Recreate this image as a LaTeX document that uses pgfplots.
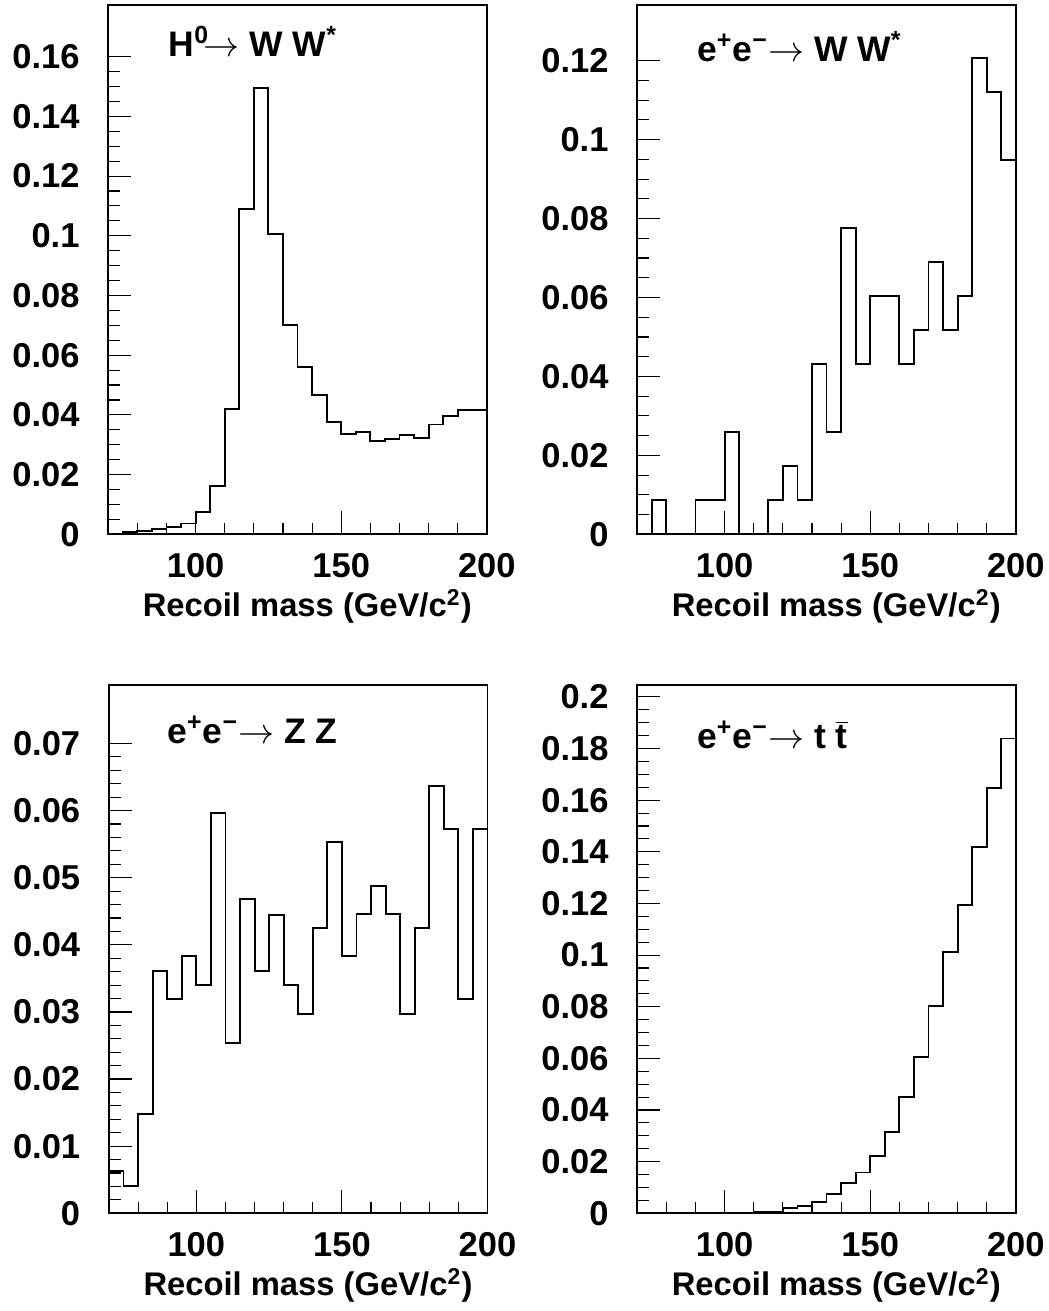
\documentclass[border=0pt]{standalone}
\usepackage{fontspec}
\setmainfont{Liberation Sans}
\usepackage{pgfplots}
\pgfplotsset{compat=1.18}

\newcommand{\lblfont}{\bfseries\fontsize{13.8}{16}\selectfont}
\newcommand{\xlfont}{\bfseries\fontsize{13.1}{15}\selectfont}
\newcommand{\ttlfont}{\bfseries\fontsize{14.2}{16}\selectfont}

\pgfplotsset{
  hist/.style={
    scale only axis,
    width=151.4pt,
    xmin=70, xmax=200,
    ymin=0,
    axis line style={line width=0.75pt},
    tick pos=lower,
    tick align=inside,
    major tick length=9.2pt,
    minor tick length=4.7pt,
    every tick/.style={black, line width=0.45pt},
    xtick={100,150,200},
    minor xtick={80,90,110,120,130,140,160,170,180,190},
    scaled y ticks=false,
    ticklabel style={font=\lblfont},
    /pgf/number format/assume math mode=true,
    yticklabel style={/pgf/number format/fixed, /pgf/number format/precision=3, xshift=-8pt},
    xticklabel style={yshift=-4pt},
    xlabel={Recoil mass (GeV/c\textsuperscript{2})},
    xlabel style={at={(axis description cs:1,0)}, anchor=north east,
                  yshift=-18.5pt, xshift=-2.5pt, font=\xlfont},
    clip=false,
  },
  hline/.style={const plot mark left, black, line width=0.75pt, mark=none},
}

\begin{document}
\begin{tikzpicture}
\useasboundingbox (0,0) rectangle (419.6pt,524.4pt);

% H0 -> W W*
\begin{axis}[hist, at={(43.32pt,310.68pt)}, anchor=south west,
    height=211.7pt, ymax=0.1773,
    ytick={0,0.02,...,0.16}, minor y tick num=3]
\addplot[hline] coordinates {
  (70,0) (75,0.0007) (80,0.0012) (85,0.0017) (90,0.0025) (95,0.0036)
  (100,0.0076) (105,0.0162) (110,0.0419) (115,0.1090) (120,0.1494)
  (125,0.1005) (130,0.0700) (135,0.0559) (140,0.0466) (145,0.0377)
  (150,0.0335) (155,0.0342) (160,0.0313) (165,0.0318) (170,0.0332)
  (175,0.0323) (180,0.0368) (185,0.0396) (190,0.0416) (195,0.0416)
  (200,0.0416)
};
\node[anchor=base west, inner sep=0pt, font=\ttlfont] at (rel axis cs:0.1586,0.902)
  {H\textsuperscript{0}$\!\rightarrow$ W W\textsuperscript{*}};
\end{axis}

% e+e- -> W W*
\begin{axis}[hist, at={(254.92pt,310.68pt)}, anchor=south west,
    height=211.7pt, ymax=0.1341,
    ytick={0,0.02,...,0.12}, minor y tick num=3]
\addplot[hline] coordinates {
  (70,0) (75,0.00862) (80,0) (85,0) (90,0.00862) (95,0.00862)
  (100,0.02586) (105,0) (110,0) (115,0.00862) (120,0.01724)
  (125,0.00862) (130,0.04310) (135,0.02586) (140,0.07759) (145,0.04310)
  (150,0.06034) (155,0.06034) (160,0.04310) (165,0.05172) (170,0.06897)
  (175,0.05172) (180,0.06034) (185,0.12069) (190,0.11207) (195,0.09483)
  (200,0.09483)
};
\node[anchor=base west, inner sep=0pt, font=\ttlfont] at (rel axis cs:0.157,0.893)
  {e\textsuperscript{+}e\textsuperscript{−}$\rightarrow$ W W\textsuperscript{*}};
\end{axis}

% e+e- -> Z Z
\begin{axis}[hist, at={(43.6pt,39.08pt)}, anchor=south west,
    height=211.3pt, ymax=0.0787,
    ytick={0,0.01,...,0.07}, minor y tick num=4]
\addplot[hline] coordinates {
  (70,0.0063) (75,0.0041) (80,0.0148) (85,0.0361) (90,0.0319) (95,0.0383)
  (100,0.0340) (105,0.0596) (110,0.0254) (115,0.0468) (120,0.0361)
  (125,0.0445) (130,0.0340) (135,0.0297) (140,0.0425) (145,0.0553)
  (150,0.0383) (155,0.0446) (160,0.0488) (165,0.0446) (170,0.0297)
  (175,0.0425) (180,0.0637) (185,0.0573) (190,0.0319) (195,0.0573)
  (200,0.0573)
};
\node[anchor=base west, inner sep=0pt, font=\ttlfont] at (rel axis cs:0.153,0.890)
  {e\textsuperscript{+}e\textsuperscript{−}$\rightarrow$ Z Z};
\end{axis}

% e+e- -> t tbar
\begin{axis}[hist, at={(254.92pt,39.08pt)}, anchor=south west,
    height=211.3pt, ymax=0.2046,
    ytick={0,0.02,...,0.2}, minor y tick num=3]
\addplot[hline] coordinates {
  (70,0) (75,0) (80,0) (85,0) (90,0) (95,0.0001)
  (100,0.0002) (105,0.0003) (110,0.0005) (115,0.0007) (120,0.0021)
  (125,0.0028) (130,0.0043) (135,0.0074) (140,0.0116) (145,0.0158)
  (150,0.0222) (155,0.0314) (160,0.0452) (165,0.0604) (170,0.0804)
  (175,0.1013) (180,0.1194) (185,0.1420) (190,0.1647) (195,0.1839)
  (200,0.1839)
};
\node[anchor=base west, inner sep=0pt, font=\ttlfont] at (rel axis cs:0.157,0.879)
  {e\textsuperscript{+}e\textsuperscript{−}$\rightarrow$ t $\overline{\mbox{t}}$};
\end{axis}
\end{tikzpicture}
\end{document}
